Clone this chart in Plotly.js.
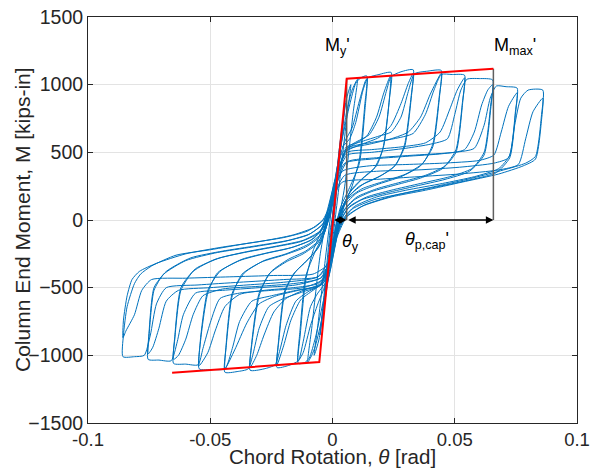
<!DOCTYPE html>
<html>
<head>
<meta charset="utf-8">
<script src="https://cdn.plot.ly/plotly-3.0.1.min.js"></script>
<style>html,body{margin:0;padding:0;background:#fff;}#chart{width:590px;height:469px;}</style>
</head>
<body>
<div id="chart"></div>
<script>
// Hysteresis cycles: chord rotation (rad) and moment (kips-in)
const cyc01T = [0, 0.0025, 0.0038, 0.0025, 0, -0.0025, -0.0036, -0.0024, 0];
const cyc01M = [0, 480, 660, 420, -30, -480, -640, -400, 30];
const cyc02T = [0, 0.003, 0.0052, 0.0035, 0.001, -0.002, -0.0051, -0.0035, -0.001, 0];
const cyc02M = [30, 560, 860, 560, 80, -420, -850, -560, -80, 30];
const cyc03T = [0, 0.003, 0.0055, 0.0075, 0.006, 0.003, 0, -0.003, -0.0055, -0.0075, -0.006, -0.003, 0];
const cyc03M = [30, 520, 880, 1000, 780, 300, -150, -520, -880, -1000, -780, -300, 150];
const cyc04T = [0, 0.003, 0.006, 0.008, 0.0102, 0.0085, 0.005, 0.002, -0.001, -0.004, -0.007, -0.0085, -0.0101, -0.0085, -0.005, -0.002, 0.001];
const cyc04M = [150, 500, 820, 960, 1040, 800, 250, -50, -350, -700, -930, -1000, -1050, -800, -250, 50, 300];
const cyc05T = [0.001, 0.004, 0.007, 0.0095, 0.0115, 0.014, 0.0132, 0.011, 0.008, 0.005, 0.002, -0.001, -0.004, -0.007, -0.0095, -0.0115, -0.014, -0.0132, -0.011, -0.008, -0.005, -0.002, 0.001];
const cyc05M = [300, 600, 850, 1010, 1050, 1065, 850, 450, 250, 120, -100, -380, -620, -870, -1020, -1055, -1060, -850, -450, -230, -100, 80, 300];
const cyc06T = [0.002, 0.005, 0.008, 0.011, 0.0135, 0.0142, 0.0133, 0.011, 0.007, 0.003, 0.0, -0.003, -0.006, -0.009, -0.012, -0.0142, -0.0133, -0.011, -0.007, -0.003, 0, 0.002];
const cyc06M = [400, 580, 680, 880, 1030, 1045, 820, 420, 240, 80, -200, -480, -620, -780, -980, -1045, -820, -420, -230, -80, 150, 400];
const cyc07T = [0.004, 0.007, 0.0095, 0.0125, 0.0145, 0.019, 0.024, 0.0233, 0.021, 0.018, 0.013, 0.008, 0.004, 0.001, -0.002, -0.006, -0.009, -0.012, -0.014, -0.018, -0.0227, -0.022, -0.0195, -0.016, -0.011, -0.006, -0.002, 0.001];
const cyc07M = [540, 600, 720, 960, 1050, 1075, 1090, 900, 550, 400, 320, 230, 90, -200, -440, -540, -640, -900, -1040, -1075, -1090, -900, -540, -400, -310, -210, -20, 280];
const cyc08T = [0.001, 0.004, 0.009, 0.014, 0.018, 0.021, 0.0238, 0.0232, 0.0205, 0.017, 0.012, 0.007, 0.003, 0.0, -0.003, -0.008, -0.013, -0.017, -0.020, -0.0227, -0.022, -0.0195, -0.015, -0.010, -0.005, -0.001, 0.002];
const cyc08M = [280, 500, 560, 620, 760, 940, 1070, 880, 520, 380, 300, 200, 50, -230, -450, -520, -590, -740, -930, -1070, -880, -520, -380, -290, -180, 50, 330];
const cyc09T = [0.005, 0.010, 0.015, 0.019, 0.022, 0.024, 0.028, 0.033, 0.0322, 0.0295, 0.026, 0.020, 0.013, 0.007, 0.003, 0.0, -0.004, -0.010, -0.015, -0.019, -0.0215, -0.0235, -0.028, -0.0337, -0.033, -0.030, -0.026, -0.019, -0.012, -0.006, -0.002, 0.001];
const cyc09M = [530, 580, 630, 760, 950, 1060, 1095, 1110, 920, 560, 410, 330, 270, 180, 40, -250, -470, -530, -600, -780, -960, -1070, -1100, -1110, -920, -560, -400, -310, -250, -170, 0, 250];
const cyc10T = [0.001, 0.005, 0.012, 0.019, 0.024, 0.028, 0.031, 0.033, 0.0322, 0.0295, 0.025, 0.018, 0.011, 0.006, 0.002, -0.001, -0.005, -0.012, -0.019, -0.024, -0.028, -0.031, -0.0337, -0.033, -0.030, -0.025, -0.018, -0.011, -0.005, -0.001, 0.002];
const cyc10M = [250, 500, 560, 610, 700, 860, 1010, 1085, 900, 540, 390, 310, 250, 160, 10, -280, -470, -520, -580, -680, -850, -1000, -1090, -900, -540, -380, -290, -230, -140, 30, 320];
const cyc11T = [0.002, 0.006, 0.012, 0.019, 0.024, 0.028, 0.031, 0.0335, 0.039, 0.0445, 0.0437, 0.041, 0.037, 0.030, 0.020, 0.012, 0.006, 0.002, -0.001, -0.005, -0.012, -0.020, -0.026, -0.030, -0.0325, -0.0345, -0.039, -0.044, -0.0435, -0.041, -0.037, -0.029, -0.020, -0.011, -0.005, -0.001, 0.002];
const cyc11M = [320, 540, 580, 620, 650, 760, 950, 1080, 1100, 1105, 920, 560, 420, 340, 280, 230, 150, 0, -280, -480, -530, -580, -640, -800, -990, -1100, -1120, -1125, -940, -560, -400, -310, -260, -200, -120, 60, 330];
const cyc12T = [0.002, 0.006, 0.015, 0.024, 0.031, 0.036, 0.040, 0.0445, 0.0437, 0.041, 0.036, 0.028, 0.018, 0.010, 0.005, 0.002, -0.001, -0.005, -0.014, -0.023, -0.030, -0.035, -0.040, -0.044, -0.0435, -0.041, -0.036, -0.028, -0.019, -0.010, -0.004, -0.001, 0.002];
const cyc12M = [330, 520, 560, 600, 650, 760, 930, 1085, 900, 540, 400, 320, 260, 200, 110, -40, -300, -480, -520, -560, -620, -760, -960, -1100, -920, -540, -390, -300, -250, -180, -90, 80, 350];
const cyc13T = [0.002, 0.006, 0.015, 0.025, 0.033, 0.038, 0.0415, 0.0445, 0.049, 0.054, 0.0532, 0.0505, 0.046, 0.038, 0.028, 0.018, 0.010, 0.005, 0.002, -0.001, -0.005, -0.015, -0.025, -0.033, -0.038, -0.041, -0.044, -0.049, -0.0545, -0.054, -0.051, -0.047, -0.038, -0.028, -0.018, -0.009, -0.004, -0.001, 0.002];
const cyc13M = [350, 530, 570, 600, 640, 780, 960, 1075, 1075, 1070, 880, 520, 400, 330, 280, 230, 170, 80, -80, -320, -480, -520, -560, -600, -750, -950, -1100, -1105, -1100, -900, -540, -390, -300, -250, -210, -150, -60, 120, 360];
const cyc14T = [0.002, 0.006, 0.016, 0.028, 0.038, 0.044, 0.048, 0.051, 0.054, 0.0532, 0.0505, 0.045, 0.036, 0.026, 0.016, 0.009, 0.004, 0.001, -0.002, -0.006, -0.016, -0.028, -0.038, -0.044, -0.048, -0.051, -0.0545, -0.054, -0.051, -0.046, -0.037, -0.026, -0.016, -0.008, -0.003, 0.0, 0.002];
const cyc14M = [360, 500, 520, 540, 570, 650, 820, 960, 1050, 860, 500, 380, 310, 260, 210, 150, 50, -150, -380, -470, -500, -520, -550, -640, -820, -980, -1075, -880, -520, -380, -290, -240, -200, -140, -40, 150, 330];
const cyc15T = [0.002, 0.006, 0.016, 0.030, 0.040, 0.047, 0.050, 0.0525, 0.055, 0.060, 0.0655, 0.0647, 0.062, 0.057, 0.048, 0.036, 0.024, 0.014, 0.007, 0.003, 0.0, -0.004, -0.012, -0.025, -0.038, -0.046, -0.050, -0.053, -0.055, -0.060, -0.065, -0.0645, -0.062, -0.057, -0.048, -0.036, -0.024, -0.013, -0.006, -0.002, 0.001];
const cyc15M = [330, 480, 500, 530, 560, 600, 780, 960, 1040, 1045, 1035, 850, 500, 380, 320, 270, 220, 170, 100, -20, -250, -440, -500, -520, -540, -580, -760, -950, -1070, -1065, -1060, -880, -520, -380, -290, -240, -200, -160, -100, 20, 250];
const cyc16T = [0.001, 0.005, 0.016, 0.030, 0.045, 0.054, 0.058, 0.061, 0.0635, 0.0655, 0.0647, 0.062, 0.056, 0.046, 0.034, 0.022, 0.012, 0.006, 0.002, -0.001, -0.005, -0.016, -0.030, -0.045, -0.053, -0.057, -0.060, -0.063, -0.065, -0.0645, -0.062, -0.056, -0.046, -0.034, -0.022, -0.012, -0.005, -0.001, 0.002];
const cyc16M = [250, 420, 450, 470, 490, 520, 650, 850, 960, 1000, 820, 480, 360, 300, 250, 200, 150, 80, -60, -300, -430, -470, -490, -510, -560, -700, -880, -1000, -1030, -860, -500, -360, -280, -230, -190, -150, -80, 60, 280];
const cyc17T = [0.002, 0.006, 0.018, 0.034, 0.050, 0.058, 0.062, 0.0645, 0.067, 0.071, 0.0755, 0.0748, 0.0725, 0.068, 0.058, 0.045, 0.030, 0.018, 0.009, 0.004, 0.0, -0.004, -0.015, -0.030, -0.045, -0.056, -0.061, -0.0635, -0.066, -0.071, -0.0754, -0.075, -0.073, -0.069, -0.060, -0.047, -0.033, -0.020, -0.010, -0.004, 0.0];
const cyc17M = [280, 430, 460, 480, 500, 530, 700, 900, 990, 985, 975, 800, 480, 380, 320, 270, 220, 170, 100, 0, -230, -420, -480, -500, -520, -540, -700, -900, -1040, -1035, -1030, -850, -520, -400, -300, -240, -200, -160, -110, -30, 180];
const cyc18T = [0.0, 0.004, 0.015, 0.030, 0.045, 0.060, 0.066, 0.069, 0.072, 0.0755, 0.0748, 0.0725, 0.067, 0.057, 0.044, 0.030, 0.017, 0.008, 0.003, -0.001, -0.006, -0.020, -0.035, -0.050, -0.063, -0.068, -0.071, -0.0735, -0.0754, -0.075, -0.073, -0.068, -0.058, -0.045, -0.031, -0.018, -0.009, -0.003, 0.001];
const cyc18M = [180, 360, 400, 410, 420, 440, 480, 650, 840, 940, 780, 460, 350, 300, 250, 200, 150, 80, -40, -280, -420, -460, -480, -500, -520, -600, -800, -940, -990, -820, -500, -380, -280, -230, -190, -150, -100, -10, 200];
const cyc19T = [0.001, 0.005, 0.018, 0.035, 0.052, 0.066, 0.072, 0.0745, 0.077, 0.080, 0.086, 0.0855, 0.083, 0.079, 0.070, 0.055, 0.040, 0.025, 0.013, 0.006, 0.002, -0.001, -0.006, -0.020, -0.038, -0.055, -0.068, -0.072, -0.0745, -0.077, -0.081, -0.0857, -0.0855, -0.084, -0.081, -0.0785, -0.074, -0.064, -0.050, -0.034, -0.020, -0.010, -0.004, 0.0];
const cyc19M = [200, 330, 360, 370, 390, 420, 460, 700, 900, 960, 960, 780, 470, 420, 370, 300, 240, 180, 110, 30, -120, -320, -420, -440, -460, -480, -500, -620, -850, -1000, -1010, -1010, -850, -640, -470, -400, -340, -260, -220, -170, -130, -80, 0, 150];
const cyc20T = [0.0, 0.004, 0.018, 0.035, 0.052, 0.068, 0.076, 0.079, 0.082, 0.086, 0.0855, 0.083, 0.078, 0.068, 0.053, 0.038, 0.024, 0.012, 0.005, 0.001, -0.002, -0.008, -0.024, -0.042, -0.060, -0.074, -0.078, -0.081, -0.0845, -0.0857, -0.0855, -0.084, -0.082, -0.079, -0.072, -0.060, -0.045, -0.030, -0.016, -0.007, -0.002];
const cyc20M = [150, 280, 300, 320, 340, 370, 410, 600, 800, 900, 740, 450, 400, 340, 280, 220, 170, 100, 10, -150, -330, -400, -410, -420, -430, -440, -520, -700, -820, -870, -740, -560, -440, -380, -320, -250, -200, -160, -110, -50, 30];

// Idealized backbone (red) and its marked points
const backboneT = [-0.0656, -0.0054, 0.0058, 0.0658];
const backboneM = [-1128, -1050, 1044, 1118];
const thetaY = 0.0058;
const thetaCap = 0.0658;
const momentY = 1044;
const momentMax = 1118;

const xTicks = [-0.1, -0.05, 0, 0.05, 0.1];
const xTickText = ['-0.1', '-0.05', '0', '0.05', '0.1'];
const yTicks = [-1500, -1000, -500, 0, 500, 1000, 1500];

const cyclesT = [cyc01T, cyc02T, cyc03T, cyc04T, cyc05T, cyc06T, cyc07T, cyc08T, cyc09T, cyc10T,
                 cyc11T, cyc12T, cyc13T, cyc14T, cyc15T, cyc16T, cyc17T, cyc18T, cyc19T, cyc20T];
const cyclesM = [cyc01M, cyc02M, cyc03M, cyc04M, cyc05M, cyc06M, cyc07M, cyc08M, cyc09M, cyc10M,
                 cyc11M, cyc12M, cyc13M, cyc14M, cyc15M, cyc16M, cyc17M, cyc18M, cyc19M, cyc20M];

const blue = 'rgb(0,114,189)';
const traces = [];
cyclesT.forEach((t, i) => {
  traces.push({
    x: t, y: cyclesM[i], type: 'scatter', mode: 'lines',
    line: {color: blue, width: 1, shape: 'spline', smoothing: 0.6},
    hoverinfo: 'skip', showlegend: false
  });
});
// gray verticals
traces.push({x: [thetaY, thetaY], y: [momentY, 0], mode: 'lines', line: {color: '#606060', width: 1.5}, showlegend: false, hoverinfo: 'skip'});
traces.push({x: [thetaCap, thetaCap], y: [momentMax, 0], mode: 'lines', line: {color: '#606060', width: 1.5}, showlegend: false, hoverinfo: 'skip'});
traces.push({x: backboneT, y: backboneM, mode: 'lines', line: {color: '#ff0000', width: 2}, showlegend: false, hoverinfo: 'skip'});

const font = 'Liberation Sans, Arial, Helvetica, sans-serif';
const txt = '#262626';

const layout = {
  width: 590, height: 469,
  margin: {l: 88, r: 13, t: 17, b: 46},
  paper_bgcolor: '#fff', plot_bgcolor: '#fff',
  font: {family: font, color: txt, size: 19},
  showlegend: false,
  xaxis: {
    range: [-0.1, 0.1], tickvals: xTicks, ticktext: xTickText,
    ticks: 'inside', ticklen: 5, tickcolor: txt, showline: true, linecolor: txt, linewidth: 1,
    mirror: 'ticks', showgrid: true, gridcolor: '#e3e3e3', zeroline: false,
    ticklabeloverflow: 'allow', tickfont: {size: 18.5, color: txt}
  },
  yaxis: {
    range: [-1500, 1500], tickvals: yTicks,
    ticks: 'inside', ticklen: 5, tickcolor: txt, showline: true, linecolor: txt, linewidth: 1,
    mirror: 'ticks', showgrid: true, gridcolor: '#e3e3e3', zeroline: false,
    ticklabeloverflow: 'allow', tickfont: {size: 19.5, color: txt}
  },
  annotations: [
    {x: thetaY, y: 0, ax: 0, ay: 0, axref: 'x', ayref: 'y', xref: 'x', yref: 'y', text: '',
     showarrow: true, arrowhead: 2, startarrowhead: 2, arrowside: 'end+start', arrowsize: 1, arrowwidth: 1.5, arrowcolor: '#000'},
    {x: thetaCap, y: 0, ax: thetaY, ay: 0, axref: 'x', ayref: 'y', xref: 'x', yref: 'y', text: '',
     showarrow: true, arrowhead: 2, startarrowhead: 2, arrowside: 'end+start', arrowsize: 1, arrowwidth: 1.5, arrowcolor: '#000'},
    {x: 0.0022, y: 1285, xref: 'x', yref: 'y', text: "M<sub>y</sub>'", showarrow: false, font: {size: 18, color: '#000'}},
    {x: 0.0747, y: 1285, xref: 'x', yref: 'y', text: "M<sub>max</sub>'", showarrow: false, font: {size: 18, color: '#000'}},
    {x: 0.0075, y: -165, xref: 'x', yref: 'y', text: "<i>θ</i><sub>y</sub>", showarrow: false, font: {size: 18, color: '#000'}},
    {x: 0.0386, y: -150, xref: 'x', yref: 'y', text: "<i>θ</i><sub>p,cap</sub>'", showarrow: false, font: {size: 18, color: '#000'}},
    {x: 0.5, y: 0, xref: 'paper', yref: 'paper', xanchor: 'center', yanchor: 'middle',
     text: 'Chord Rotation, <i>θ</i> [rad]', showarrow: false, font: {size: 20.5, color: txt}},
    {x: 0, y: 0.5, xref: 'paper', yref: 'paper', xanchor: 'center', yanchor: 'middle', textangle: -90,
     text: 'Column End Moment, M [kips-in]', showarrow: false, font: {size: 21, color: txt}}
  ]
};
// paper coords are relative to plot area; convert pixel positions
const plotW = 590 - 88 - 13, plotH = 469 - 17 - 46;
layout.annotations[6].x = (332.5 - 88) / plotW;
layout.annotations[6].y = (469 - 46 - 456.5) / plotH;
layout.annotations[7].x = (22 - 88) / plotW;
layout.annotations[7].y = (469 - 46 - 220) / plotH;

Plotly.newPlot('chart', traces, layout, {staticPlot: true, displayModeBar: false});
</script>
</body>
</html>
